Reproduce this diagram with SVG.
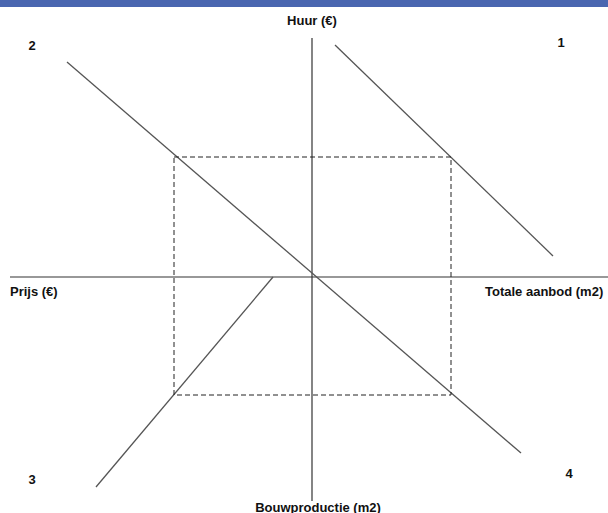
<svg xmlns="http://www.w3.org/2000/svg" width="608" height="513" viewBox="0 0 608 513">
<style>
.lbl{font-family:"Liberation Sans",Arial,sans-serif;font-weight:bold;font-size:13px;fill:#111}
.ax{stroke:#333;stroke-width:1.2;fill:none}
.ln{stroke:#555;stroke-width:1.3;fill:none}
.dash{stroke:#222;stroke-width:1;fill:none;stroke-dasharray:5,3}
</style>
<rect x="0" y="0" width="608" height="7" fill="#4a66b0"/>
<g id="connectors">
<line class="ax" x1="312" y1="38" x2="312" y2="501"/>
<line class="ax" x1="10" y1="277" x2="608" y2="277"/>
<line id="line1" class="ln" x1="335" y1="45" x2="553" y2="256"/>
<line id="line2" class="ln" x1="67" y1="62" x2="521" y2="453"/>
<line id="line3" class="ln" x1="273" y1="277" x2="96" y2="487"/>
<rect class="dash" x="174" y="157" width="277" height="238"/>
</g>
<g id="labels">
<text class="lbl" x="312" y="25" text-anchor="middle">Huur (€)</text>
<text class="lbl" x="32" y="50" text-anchor="middle">2</text>
<text class="lbl" x="561" y="47" text-anchor="middle">1</text>
<text class="lbl" x="10" y="296">Prijs (€)</text>
<text class="lbl" x="485" y="296">Totale aanbod (m2)</text>
<text class="lbl" x="32" y="484" text-anchor="middle">3</text>
<text class="lbl" x="569" y="478" text-anchor="middle">4</text>
<text class="lbl" x="318" y="512" text-anchor="middle">Bouwproductie (m2)</text>
</g>
</svg>
